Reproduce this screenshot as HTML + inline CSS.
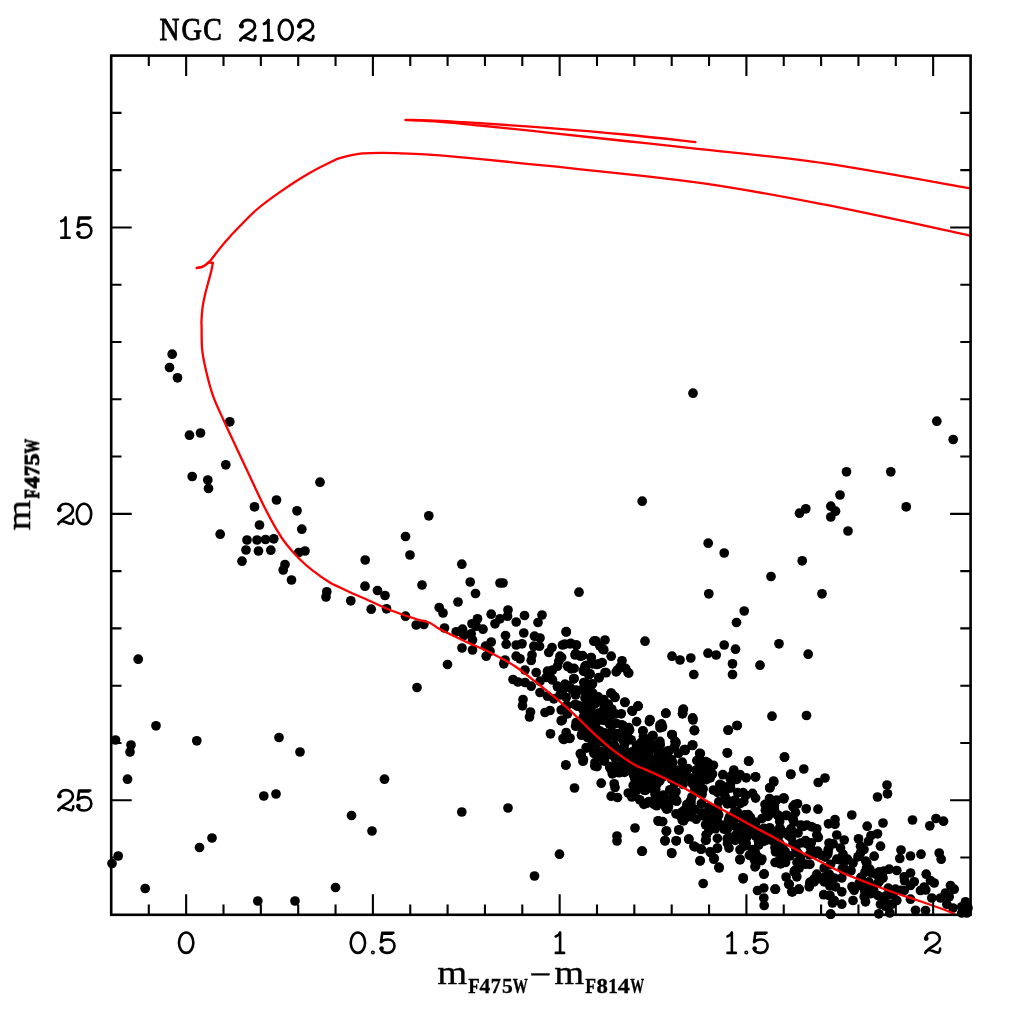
<!DOCTYPE html>
<html><head><meta charset="utf-8"><title>NGC 2102</title>
<style>html,body{margin:0;padding:0;background:#fff;}svg{display:block;}</style></head>
<body>
<svg width="1024" height="1024" viewBox="0 0 1024 1024">
<rect width="1024" height="1024" fill="#fff"/>
<defs><clipPath id="c"><rect x="109.90" y="54.30" width="862.00" height="861.80"/></clipPath></defs>
<g fill="#000">
<circle cx="172.2" cy="354.2" r="4.85"/>
<circle cx="169.5" cy="367.5" r="4.85"/>
<circle cx="177.5" cy="377.8" r="4.85"/>
<circle cx="229.8" cy="421.8" r="4.85"/>
<circle cx="200.5" cy="433.0" r="4.85"/>
<circle cx="189.5" cy="435.2" r="4.85"/>
<circle cx="225.8" cy="464.8" r="4.85"/>
<circle cx="192.2" cy="476.5" r="4.85"/>
<circle cx="207.8" cy="480.0" r="4.85"/>
<circle cx="208.5" cy="488.5" r="4.85"/>
<circle cx="320.0" cy="482.2" r="4.85"/>
<circle cx="276.5" cy="500.0" r="4.85"/>
<circle cx="254.5" cy="506.8" r="4.85"/>
<circle cx="297.0" cy="510.8" r="4.85"/>
<circle cx="259.5" cy="525.0" r="4.85"/>
<circle cx="301.8" cy="529.2" r="4.85"/>
<circle cx="220.2" cy="534.2" r="4.85"/>
<circle cx="247.0" cy="540.0" r="4.85"/>
<circle cx="257.0" cy="540.0" r="4.85"/>
<circle cx="265.5" cy="539.5" r="4.85"/>
<circle cx="273.8" cy="538.8" r="4.85"/>
<circle cx="246.0" cy="550.0" r="4.85"/>
<circle cx="258.5" cy="551.0" r="4.85"/>
<circle cx="270.8" cy="550.2" r="4.85"/>
<circle cx="305.0" cy="551.0" r="4.85"/>
<circle cx="298.8" cy="552.5" r="4.85"/>
<circle cx="242.0" cy="561.2" r="4.85"/>
<circle cx="285.0" cy="564.5" r="4.85"/>
<circle cx="283.2" cy="570.0" r="4.85"/>
<circle cx="291.5" cy="580.0" r="4.85"/>
<circle cx="326.8" cy="591.8" r="4.85"/>
<circle cx="326.0" cy="597.0" r="4.85"/>
<circle cx="350.8" cy="600.8" r="4.85"/>
<circle cx="138.2" cy="659.2" r="4.85"/>
<circle cx="156.0" cy="725.8" r="4.85"/>
<circle cx="115.5" cy="740.0" r="4.85"/>
<circle cx="131.0" cy="745.0" r="4.85"/>
<circle cx="130.0" cy="752.0" r="4.85"/>
<circle cx="196.8" cy="740.8" r="4.85"/>
<circle cx="279.0" cy="737.5" r="4.85"/>
<circle cx="300.0" cy="752.0" r="4.85"/>
<circle cx="127.5" cy="779.2" r="4.85"/>
<circle cx="263.8" cy="796.0" r="4.85"/>
<circle cx="276.0" cy="794.0" r="4.85"/>
<circle cx="351.5" cy="815.5" r="4.85"/>
<circle cx="212.0" cy="838.0" r="4.85"/>
<circle cx="199.5" cy="847.5" r="4.85"/>
<circle cx="118.2" cy="856.0" r="4.85"/>
<circle cx="112.0" cy="863.5" r="4.85"/>
<circle cx="145.2" cy="888.5" r="4.85"/>
<circle cx="335.5" cy="887.5" r="4.85"/>
<circle cx="257.8" cy="901.0" r="4.85"/>
<circle cx="295.0" cy="901.0" r="4.85"/>
<circle cx="428.8" cy="515.8" r="4.85"/>
<circle cx="405.5" cy="536.5" r="4.85"/>
<circle cx="410.0" cy="555.0" r="4.85"/>
<circle cx="365.2" cy="560.0" r="4.85"/>
<circle cx="461.8" cy="564.2" r="4.85"/>
<circle cx="365.0" cy="586.2" r="4.85"/>
<circle cx="422.0" cy="585.0" r="4.85"/>
<circle cx="470.2" cy="582.0" r="4.85"/>
<circle cx="500.0" cy="583.0" r="4.85"/>
<circle cx="503.0" cy="583.0" r="4.85"/>
<circle cx="377.5" cy="590.5" r="4.85"/>
<circle cx="385.0" cy="595.5" r="4.85"/>
<circle cx="475.5" cy="593.5" r="4.85"/>
<circle cx="579.0" cy="592.2" r="4.85"/>
<circle cx="371.2" cy="609.2" r="4.85"/>
<circle cx="386.5" cy="608.8" r="4.85"/>
<circle cx="458.0" cy="602.0" r="4.85"/>
<circle cx="439.2" cy="607.5" r="4.85"/>
<circle cx="443.0" cy="613.0" r="4.85"/>
<circle cx="405.5" cy="616.2" r="4.85"/>
<circle cx="416.2" cy="625.0" r="4.85"/>
<circle cx="423.8" cy="624.5" r="4.85"/>
<circle cx="444.5" cy="628.0" r="4.85"/>
<circle cx="491.2" cy="614.2" r="4.85"/>
<circle cx="508.0" cy="610.0" r="4.85"/>
<circle cx="507.5" cy="616.2" r="4.85"/>
<circle cx="524.5" cy="615.5" r="4.85"/>
<circle cx="542.0" cy="615.0" r="4.85"/>
<circle cx="538.0" cy="622.5" r="4.85"/>
<circle cx="516.2" cy="622.0" r="4.85"/>
<circle cx="500.0" cy="618.8" r="4.85"/>
<circle cx="495.0" cy="623.8" r="4.85"/>
<circle cx="477.5" cy="618.8" r="4.85"/>
<circle cx="472.0" cy="623.8" r="4.85"/>
<circle cx="476.2" cy="626.2" r="4.85"/>
<circle cx="483.0" cy="629.2" r="4.85"/>
<circle cx="462.5" cy="629.2" r="4.85"/>
<circle cx="456.2" cy="631.8" r="4.85"/>
<circle cx="471.2" cy="633.8" r="4.85"/>
<circle cx="463.8" cy="635.5" r="4.85"/>
<circle cx="472.5" cy="640.0" r="4.85"/>
<circle cx="462.0" cy="648.0" r="4.85"/>
<circle cx="472.5" cy="650.0" r="4.85"/>
<circle cx="491.2" cy="642.0" r="4.85"/>
<circle cx="485.5" cy="646.2" r="4.85"/>
<circle cx="490.0" cy="651.2" r="4.85"/>
<circle cx="486.2" cy="656.2" r="4.85"/>
<circle cx="505.5" cy="635.5" r="4.85"/>
<circle cx="523.8" cy="633.0" r="4.85"/>
<circle cx="506.2" cy="644.2" r="4.85"/>
<circle cx="516.2" cy="645.0" r="4.85"/>
<circle cx="522.0" cy="643.8" r="4.85"/>
<circle cx="534.5" cy="636.2" r="4.85"/>
<circle cx="540.0" cy="638.0" r="4.85"/>
<circle cx="533.8" cy="646.2" r="4.85"/>
<circle cx="539.5" cy="646.2" r="4.85"/>
<circle cx="566.2" cy="632.0" r="4.85"/>
<circle cx="593.8" cy="641.2" r="4.85"/>
<circle cx="562.5" cy="645.0" r="4.85"/>
<circle cx="570.0" cy="643.8" r="4.85"/>
<circle cx="576.2" cy="645.0" r="4.85"/>
<circle cx="552.0" cy="647.5" r="4.85"/>
<circle cx="548.8" cy="652.5" r="4.85"/>
<circle cx="532.0" cy="655.0" r="4.85"/>
<circle cx="531.2" cy="660.5" r="4.85"/>
<circle cx="516.2" cy="656.2" r="4.85"/>
<circle cx="520.0" cy="658.8" r="4.85"/>
<circle cx="505.0" cy="660.0" r="4.85"/>
<circle cx="503.8" cy="663.8" r="4.85"/>
<circle cx="447.5" cy="664.5" r="4.85"/>
<circle cx="417.0" cy="687.5" r="4.85"/>
<circle cx="560.0" cy="656.2" r="4.85"/>
<circle cx="558.8" cy="661.2" r="4.85"/>
<circle cx="575.0" cy="655.0" r="4.85"/>
<circle cx="580.5" cy="656.2" r="4.85"/>
<circle cx="591.2" cy="657.5" r="4.85"/>
<circle cx="592.5" cy="663.8" r="4.85"/>
<circle cx="567.5" cy="666.2" r="4.85"/>
<circle cx="571.2" cy="668.8" r="4.85"/>
<circle cx="557.5" cy="666.2" r="4.85"/>
<circle cx="552.5" cy="670.0" r="4.85"/>
<circle cx="547.5" cy="671.2" r="4.85"/>
<circle cx="536.2" cy="672.5" r="4.85"/>
<circle cx="525.0" cy="670.0" r="4.85"/>
<circle cx="583.8" cy="671.2" r="4.85"/>
<circle cx="590.0" cy="673.8" r="4.85"/>
<circle cx="513.0" cy="679.5" r="4.85"/>
<circle cx="518.0" cy="682.0" r="4.85"/>
<circle cx="525.0" cy="682.5" r="4.85"/>
<circle cx="531.2" cy="686.2" r="4.85"/>
<circle cx="540.0" cy="681.2" r="4.85"/>
<circle cx="546.2" cy="677.5" r="4.85"/>
<circle cx="552.5" cy="680.0" r="4.85"/>
<circle cx="573.8" cy="678.8" r="4.85"/>
<circle cx="586.2" cy="685.0" r="4.85"/>
<circle cx="592.5" cy="683.8" r="4.85"/>
<circle cx="557.5" cy="686.2" r="4.85"/>
<circle cx="563.8" cy="688.8" r="4.85"/>
<circle cx="570.0" cy="687.5" r="4.85"/>
<circle cx="576.2" cy="690.0" r="4.85"/>
<circle cx="540.0" cy="692.5" r="4.85"/>
<circle cx="547.5" cy="696.2" r="4.85"/>
<circle cx="553.8" cy="698.8" r="4.85"/>
<circle cx="560.0" cy="695.0" r="4.85"/>
<circle cx="566.2" cy="697.5" r="4.85"/>
<circle cx="586.2" cy="698.8" r="4.85"/>
<circle cx="592.5" cy="700.0" r="4.85"/>
<circle cx="523.0" cy="699.5" r="4.85"/>
<circle cx="522.5" cy="705.8" r="4.85"/>
<circle cx="530.5" cy="712.0" r="4.85"/>
<circle cx="529.5" cy="717.0" r="4.85"/>
<circle cx="545.0" cy="712.5" r="4.85"/>
<circle cx="550.0" cy="710.5" r="4.85"/>
<circle cx="561.2" cy="710.0" r="4.85"/>
<circle cx="567.5" cy="713.8" r="4.85"/>
<circle cx="577.5" cy="706.2" r="4.85"/>
<circle cx="582.5" cy="708.8" r="4.85"/>
<circle cx="561.2" cy="720.8" r="4.85"/>
<circle cx="576.2" cy="722.5" r="4.85"/>
<circle cx="582.5" cy="720.0" r="4.85"/>
<circle cx="590.0" cy="717.5" r="4.85"/>
<circle cx="550.5" cy="733.8" r="4.85"/>
<circle cx="566.2" cy="732.5" r="4.85"/>
<circle cx="563.8" cy="739.5" r="4.85"/>
<circle cx="570.0" cy="738.0" r="4.85"/>
<circle cx="582.5" cy="732.5" r="4.85"/>
<circle cx="587.5" cy="737.5" r="4.85"/>
<circle cx="592.5" cy="742.5" r="4.85"/>
<circle cx="586.2" cy="747.5" r="4.85"/>
<circle cx="581.2" cy="755.0" r="4.85"/>
<circle cx="583.0" cy="761.2" r="4.85"/>
<circle cx="565.8" cy="765.0" r="4.85"/>
<circle cx="595.0" cy="762.5" r="4.85"/>
<circle cx="574.5" cy="788.0" r="4.85"/>
<circle cx="384.5" cy="779.2" r="4.85"/>
<circle cx="508.0" cy="808.0" r="4.85"/>
<circle cx="461.8" cy="812.0" r="4.85"/>
<circle cx="372.0" cy="831.0" r="4.85"/>
<circle cx="559.5" cy="854.2" r="4.85"/>
<circle cx="534.5" cy="876.0" r="4.85"/>
<circle cx="693.0" cy="393.2" r="4.85"/>
<circle cx="642.2" cy="501.2" r="4.85"/>
<circle cx="805.8" cy="508.8" r="4.85"/>
<circle cx="799.5" cy="513.2" r="4.85"/>
<circle cx="830.8" cy="506.2" r="4.85"/>
<circle cx="830.8" cy="517.0" r="4.85"/>
<circle cx="835.5" cy="511.2" r="4.85"/>
<circle cx="708.2" cy="543.2" r="4.85"/>
<circle cx="724.2" cy="553.0" r="4.85"/>
<circle cx="802.2" cy="560.8" r="4.85"/>
<circle cx="771.0" cy="576.5" r="4.85"/>
<circle cx="708.8" cy="593.8" r="4.85"/>
<circle cx="822.0" cy="593.8" r="4.85"/>
<circle cx="744.2" cy="611.0" r="4.85"/>
<circle cx="736.5" cy="622.5" r="4.85"/>
<circle cx="645.0" cy="641.2" r="4.85"/>
<circle cx="779.0" cy="643.8" r="4.85"/>
<circle cx="808.2" cy="654.2" r="4.85"/>
<circle cx="724.2" cy="645.0" r="4.85"/>
<circle cx="735.5" cy="649.2" r="4.85"/>
<circle cx="708.0" cy="653.2" r="4.85"/>
<circle cx="716.2" cy="655.0" r="4.85"/>
<circle cx="672.0" cy="656.2" r="4.85"/>
<circle cx="680.0" cy="660.0" r="4.85"/>
<circle cx="690.8" cy="658.0" r="4.85"/>
<circle cx="732.5" cy="663.8" r="4.85"/>
<circle cx="760.0" cy="665.2" r="4.85"/>
<circle cx="693.8" cy="674.5" r="4.85"/>
<circle cx="732.5" cy="674.5" r="4.85"/>
<circle cx="772.0" cy="716.2" r="4.85"/>
<circle cx="806.5" cy="715.5" r="4.85"/>
<circle cx="737.0" cy="725.5" r="4.85"/>
<circle cx="728.0" cy="730.0" r="4.85"/>
<circle cx="727.5" cy="753.0" r="4.85"/>
<circle cx="748.8" cy="761.2" r="4.85"/>
<circle cx="784.5" cy="757.0" r="4.85"/>
<circle cx="803.8" cy="769.0" r="4.85"/>
<circle cx="790.8" cy="774.5" r="4.85"/>
<circle cx="825.0" cy="778.0" r="4.85"/>
<circle cx="818.2" cy="782.5" r="4.85"/>
<circle cx="773.8" cy="782.0" r="4.85"/>
<circle cx="770.0" cy="787.5" r="4.85"/>
<circle cx="755.5" cy="776.8" r="4.85"/>
<circle cx="783.8" cy="798.0" r="4.85"/>
<circle cx="806.2" cy="808.8" r="4.85"/>
<circle cx="818.0" cy="809.2" r="4.85"/>
<circle cx="795.0" cy="804.5" r="4.85"/>
<circle cx="595.5" cy="640.8" r="4.85"/>
<circle cx="605.0" cy="640.0" r="4.85"/>
<circle cx="602.5" cy="648.8" r="4.85"/>
<circle cx="582.5" cy="655.5" r="4.85"/>
<circle cx="591.2" cy="657.5" r="4.85"/>
<circle cx="611.2" cy="656.2" r="4.85"/>
<circle cx="622.0" cy="660.8" r="4.85"/>
<circle cx="598.8" cy="663.8" r="4.85"/>
<circle cx="585.0" cy="666.2" r="4.85"/>
<circle cx="605.0" cy="672.5" r="4.85"/>
<circle cx="617.5" cy="670.0" r="4.85"/>
<circle cx="628.0" cy="672.5" r="4.85"/>
<circle cx="598.8" cy="677.5" r="4.85"/>
<circle cx="588.8" cy="675.0" r="4.85"/>
<circle cx="583.8" cy="682.5" r="4.85"/>
<circle cx="590.0" cy="686.2" r="4.85"/>
<circle cx="611.2" cy="693.0" r="4.85"/>
<circle cx="585.0" cy="698.0" r="4.85"/>
<circle cx="593.8" cy="698.8" r="4.85"/>
<circle cx="603.8" cy="701.2" r="4.85"/>
<circle cx="615.0" cy="697.5" r="4.85"/>
<circle cx="625.0" cy="702.5" r="4.85"/>
<circle cx="638.0" cy="706.2" r="4.85"/>
<circle cx="632.5" cy="711.2" r="4.85"/>
<circle cx="621.2" cy="713.8" r="4.85"/>
<circle cx="665.8" cy="713.2" r="4.85"/>
<circle cx="683.0" cy="709.5" r="4.85"/>
<circle cx="682.5" cy="713.8" r="4.85"/>
<circle cx="692.5" cy="718.2" r="4.85"/>
<circle cx="650.0" cy="720.0" r="4.85"/>
<circle cx="660.0" cy="725.0" r="4.85"/>
<circle cx="662.5" cy="727.0" r="4.85"/>
<circle cx="694.5" cy="730.5" r="4.85"/>
<circle cx="672.0" cy="734.5" r="4.85"/>
<circle cx="675.0" cy="741.2" r="4.85"/>
<circle cx="692.5" cy="745.5" r="4.85"/>
<circle cx="685.0" cy="750.0" r="4.85"/>
<circle cx="700.0" cy="753.8" r="4.85"/>
<circle cx="667.5" cy="752.0" r="4.85"/>
<circle cx="663.8" cy="756.2" r="4.85"/>
<circle cx="566.2" cy="631.7" r="4.85"/>
<circle cx="564.7" cy="644.2" r="4.85"/>
<circle cx="570.9" cy="643.4" r="4.85"/>
<circle cx="576.4" cy="645.0" r="4.85"/>
<circle cx="599.8" cy="645.8" r="4.85"/>
<circle cx="603.8" cy="649.7" r="4.85"/>
<circle cx="575.6" cy="653.6" r="4.85"/>
<circle cx="581.1" cy="655.9" r="4.85"/>
<circle cx="561.6" cy="657.5" r="4.85"/>
<circle cx="596.7" cy="664.5" r="4.85"/>
<circle cx="602.2" cy="662.5" r="4.85"/>
<circle cx="586.6" cy="665.3" r="4.85"/>
<circle cx="568.6" cy="666.9" r="4.85"/>
<circle cx="574.1" cy="668.4" r="4.85"/>
<circle cx="583.4" cy="670.8" r="4.85"/>
<circle cx="589.7" cy="673.9" r="4.85"/>
<circle cx="606.1" cy="672.7" r="4.85"/>
<circle cx="599.1" cy="677.8" r="4.85"/>
<circle cx="616.2" cy="671.9" r="4.85"/>
<circle cx="620.2" cy="666.9" r="4.85"/>
<circle cx="625.6" cy="668.4" r="4.85"/>
<circle cx="628.8" cy="673.1" r="4.85"/>
<circle cx="574.1" cy="678.6" r="4.85"/>
<circle cx="585.0" cy="682.5" r="4.85"/>
<circle cx="590.5" cy="685.6" r="4.85"/>
<circle cx="567.8" cy="685.6" r="4.85"/>
<circle cx="561.6" cy="688.8" r="4.85"/>
<circle cx="572.5" cy="690.3" r="4.85"/>
<circle cx="575.6" cy="695.0" r="4.85"/>
<circle cx="586.6" cy="698.1" r="4.85"/>
<circle cx="593.6" cy="698.9" r="4.85"/>
<circle cx="577.2" cy="705.2" r="4.85"/>
<circle cx="583.4" cy="709.1" r="4.85"/>
<circle cx="564.7" cy="707.5" r="4.85"/>
<circle cx="610.8" cy="693.4" r="4.85"/>
<circle cx="614.7" cy="696.6" r="4.85"/>
<circle cx="603.8" cy="699.7" r="4.85"/>
<circle cx="606.9" cy="705.9" r="4.85"/>
<circle cx="624.8" cy="702.0" r="4.85"/>
<circle cx="638.1" cy="705.9" r="4.85"/>
<circle cx="631.9" cy="710.6" r="4.85"/>
<circle cx="649.8" cy="719.7" r="4.85"/>
<circle cx="665.9" cy="713.4" r="4.85"/>
<circle cx="683.4" cy="709.1" r="4.85"/>
<circle cx="682.7" cy="713.4" r="4.85"/>
<circle cx="692.8" cy="718.1" r="4.85"/>
<circle cx="694.4" cy="730.2" r="4.85"/>
<circle cx="661.6" cy="723.9" r="4.85"/>
<circle cx="660.0" cy="727.8" r="4.85"/>
<circle cx="672.2" cy="734.8" r="4.85"/>
<circle cx="675.6" cy="742.7" r="4.85"/>
<circle cx="692.8" cy="745.0" r="4.85"/>
<circle cx="685.0" cy="750.5" r="4.85"/>
<circle cx="699.8" cy="753.3" r="4.85"/>
<circle cx="669.4" cy="750.5" r="4.85"/>
<circle cx="664.7" cy="754.4" r="4.85"/>
<circle cx="653.0" cy="735.6" r="4.85"/>
<circle cx="642.8" cy="730.9" r="4.85"/>
<circle cx="636.6" cy="721.6" r="4.85"/>
<circle cx="566.2" cy="735.6" r="4.85"/>
<circle cx="563.0" cy="738.5" r="4.85"/>
<circle cx="569.5" cy="738.5" r="4.85"/>
<circle cx="580.3" cy="753.6" r="4.85"/>
<circle cx="583.4" cy="759.8" r="4.85"/>
<circle cx="565.9" cy="765.0" r="4.85"/>
<circle cx="586.6" cy="748.1" r="4.85"/>
<circle cx="575.6" cy="726.2" r="4.85"/>
<circle cx="562.3" cy="720.0" r="4.85"/>
<circle cx="601.2" cy="783.2" r="4.85"/>
<circle cx="611.2" cy="796.2" r="4.85"/>
<circle cx="617.5" cy="797.5" r="4.85"/>
<circle cx="615.0" cy="787.5" r="4.85"/>
<circle cx="635.0" cy="828.0" r="4.85"/>
<circle cx="617.0" cy="836.0" r="4.85"/>
<circle cx="617.0" cy="841.0" r="4.85"/>
<circle cx="658.8" cy="821.2" r="4.85"/>
<circle cx="666.2" cy="831.2" r="4.85"/>
<circle cx="678.8" cy="830.0" r="4.85"/>
<circle cx="665.0" cy="840.5" r="4.85"/>
<circle cx="676.2" cy="840.8" r="4.85"/>
<circle cx="688.8" cy="839.2" r="4.85"/>
<circle cx="706.2" cy="835.0" r="4.85"/>
<circle cx="706.2" cy="840.0" r="4.85"/>
<circle cx="641.8" cy="851.2" r="4.85"/>
<circle cx="671.8" cy="853.5" r="4.85"/>
<circle cx="695.0" cy="846.8" r="4.85"/>
<circle cx="701.2" cy="849.2" r="4.85"/>
<circle cx="700.0" cy="861.0" r="4.85"/>
<circle cx="703.2" cy="883.5" r="4.85"/>
<circle cx="710.0" cy="851.8" r="4.85"/>
<circle cx="713.8" cy="859.2" r="4.85"/>
<circle cx="719.2" cy="868.0" r="4.85"/>
<circle cx="717.5" cy="848.0" r="4.85"/>
<circle cx="743.2" cy="878.8" r="4.85"/>
<circle cx="740.0" cy="859.2" r="4.85"/>
<circle cx="755.0" cy="866.8" r="4.85"/>
<circle cx="761.2" cy="860.5" r="4.85"/>
<circle cx="763.8" cy="874.2" r="4.85"/>
<circle cx="757.5" cy="890.5" r="4.85"/>
<circle cx="763.8" cy="888.0" r="4.85"/>
<circle cx="763.8" cy="898.0" r="4.85"/>
<circle cx="764.2" cy="905.5" r="4.85"/>
<circle cx="775.0" cy="889.2" r="4.85"/>
<circle cx="788.8" cy="884.2" r="4.85"/>
<circle cx="792.5" cy="891.8" r="4.85"/>
<circle cx="798.8" cy="889.2" r="4.85"/>
<circle cx="795.0" cy="870.5" r="4.85"/>
<circle cx="810.0" cy="883.0" r="4.85"/>
<circle cx="813.8" cy="879.2" r="4.85"/>
<circle cx="827.5" cy="880.5" r="4.85"/>
<circle cx="830.0" cy="895.5" r="4.85"/>
<circle cx="832.5" cy="903.0" r="4.85"/>
<circle cx="830.8" cy="914.2" r="4.85"/>
<circle cx="936.8" cy="421.2" r="4.85"/>
<circle cx="953.2" cy="439.5" r="4.85"/>
<circle cx="846.5" cy="471.8" r="4.85"/>
<circle cx="890.8" cy="471.8" r="4.85"/>
<circle cx="840.0" cy="495.0" r="4.85"/>
<circle cx="906.2" cy="506.8" r="4.85"/>
<circle cx="848.0" cy="531.0" r="4.85"/>
<circle cx="887.0" cy="785.0" r="4.85"/>
<circle cx="887.5" cy="793.8" r="4.85"/>
<circle cx="877.5" cy="797.0" r="4.85"/>
<circle cx="783.8" cy="798.8" r="4.85"/>
<circle cx="797.5" cy="803.8" r="4.85"/>
<circle cx="793.0" cy="806.8" r="4.85"/>
<circle cx="774.2" cy="806.8" r="4.85"/>
<circle cx="769.0" cy="807.5" r="4.85"/>
<circle cx="795.5" cy="812.5" r="4.85"/>
<circle cx="778.0" cy="815.0" r="4.85"/>
<circle cx="786.8" cy="815.5" r="4.85"/>
<circle cx="793.0" cy="819.5" r="4.85"/>
<circle cx="851.8" cy="815.0" r="4.85"/>
<circle cx="835.0" cy="819.5" r="4.85"/>
<circle cx="828.5" cy="823.8" r="4.85"/>
<circle cx="835.0" cy="824.2" r="4.85"/>
<circle cx="806.8" cy="825.0" r="4.85"/>
<circle cx="811.8" cy="826.8" r="4.85"/>
<circle cx="816.8" cy="828.8" r="4.85"/>
<circle cx="816.8" cy="835.0" r="4.85"/>
<circle cx="883.0" cy="823.0" r="4.85"/>
<circle cx="867.2" cy="826.2" r="4.85"/>
<circle cx="912.5" cy="820.0" r="4.85"/>
<circle cx="936.0" cy="818.5" r="4.85"/>
<circle cx="943.5" cy="821.2" r="4.85"/>
<circle cx="929.8" cy="825.8" r="4.85"/>
<circle cx="877.5" cy="833.8" r="4.85"/>
<circle cx="871.0" cy="835.5" r="4.85"/>
<circle cx="836.8" cy="835.0" r="4.85"/>
<circle cx="844.2" cy="840.0" r="4.85"/>
<circle cx="858.5" cy="838.8" r="4.85"/>
<circle cx="868.5" cy="841.2" r="4.85"/>
<circle cx="880.5" cy="846.2" r="4.85"/>
<circle cx="860.5" cy="846.2" r="4.85"/>
<circle cx="830.5" cy="844.2" r="4.85"/>
<circle cx="840.5" cy="848.0" r="4.85"/>
<circle cx="901.0" cy="850.0" r="4.85"/>
<circle cx="921.0" cy="854.2" r="4.85"/>
<circle cx="939.2" cy="853.0" r="4.85"/>
<circle cx="941.2" cy="859.2" r="4.85"/>
<circle cx="910.5" cy="856.0" r="4.85"/>
<circle cx="899.8" cy="858.5" r="4.85"/>
<circle cx="874.2" cy="856.2" r="4.85"/>
<circle cx="866.8" cy="863.0" r="4.85"/>
<circle cx="860.5" cy="853.0" r="4.85"/>
<circle cx="864.0" cy="849.5" r="4.85"/>
<circle cx="858.0" cy="856.8" r="4.85"/>
<circle cx="853.0" cy="863.0" r="4.85"/>
<circle cx="843.0" cy="854.2" r="4.85"/>
<circle cx="845.5" cy="860.5" r="4.85"/>
<circle cx="836.8" cy="859.2" r="4.85"/>
<circle cx="828.0" cy="851.8" r="4.85"/>
<circle cx="821.8" cy="855.5" r="4.85"/>
<circle cx="829.0" cy="843.0" r="4.85"/>
<circle cx="810.5" cy="848.0" r="4.85"/>
<circle cx="805.5" cy="840.5" r="4.85"/>
<circle cx="798.0" cy="833.0" r="4.85"/>
<circle cx="789.2" cy="834.2" r="4.85"/>
<circle cx="779.2" cy="835.5" r="4.85"/>
<circle cx="770.5" cy="830.5" r="4.85"/>
<circle cx="800.5" cy="843.0" r="4.85"/>
<circle cx="783.0" cy="848.0" r="4.85"/>
<circle cx="775.5" cy="851.8" r="4.85"/>
<circle cx="786.8" cy="855.5" r="4.85"/>
<circle cx="800.5" cy="858.0" r="4.85"/>
<circle cx="779.2" cy="863.0" r="4.85"/>
<circle cx="785.5" cy="862.5" r="4.85"/>
<circle cx="805.5" cy="864.2" r="4.85"/>
<circle cx="799.2" cy="868.0" r="4.85"/>
<circle cx="794.2" cy="871.8" r="4.85"/>
<circle cx="796.8" cy="876.8" r="4.85"/>
<circle cx="824.2" cy="868.0" r="4.85"/>
<circle cx="816.8" cy="874.2" r="4.85"/>
<circle cx="829.2" cy="874.2" r="4.85"/>
<circle cx="834.2" cy="878.0" r="4.85"/>
<circle cx="841.8" cy="878.0" r="4.85"/>
<circle cx="824.2" cy="881.8" r="4.85"/>
<circle cx="814.2" cy="881.8" r="4.85"/>
<circle cx="809.2" cy="886.8" r="4.85"/>
<circle cx="789.2" cy="884.2" r="4.85"/>
<circle cx="799.2" cy="889.2" r="4.85"/>
<circle cx="791.8" cy="891.8" r="4.85"/>
<circle cx="775.5" cy="889.2" r="4.85"/>
<circle cx="835.5" cy="886.8" r="4.85"/>
<circle cx="841.8" cy="891.8" r="4.85"/>
<circle cx="829.2" cy="895.5" r="4.85"/>
<circle cx="834.2" cy="900.5" r="4.85"/>
<circle cx="841.8" cy="904.2" r="4.85"/>
<circle cx="853.0" cy="900.5" r="4.85"/>
<circle cx="853.0" cy="888.0" r="4.85"/>
<circle cx="860.5" cy="885.5" r="4.85"/>
<circle cx="868.0" cy="889.2" r="4.85"/>
<circle cx="864.2" cy="896.8" r="4.85"/>
<circle cx="865.5" cy="901.8" r="4.85"/>
<circle cx="878.0" cy="895.5" r="4.85"/>
<circle cx="880.5" cy="904.2" r="4.85"/>
<circle cx="878.8" cy="913.8" r="4.85"/>
<circle cx="830.5" cy="914.2" r="4.85"/>
<circle cx="889.8" cy="913.0" r="4.85"/>
<circle cx="891.8" cy="904.2" r="4.85"/>
<circle cx="896.8" cy="900.5" r="4.85"/>
<circle cx="895.5" cy="889.2" r="4.85"/>
<circle cx="904.2" cy="890.5" r="4.85"/>
<circle cx="910.5" cy="885.5" r="4.85"/>
<circle cx="914.2" cy="881.8" r="4.85"/>
<circle cx="920.5" cy="890.5" r="4.85"/>
<circle cx="910.5" cy="899.2" r="4.85"/>
<circle cx="871.8" cy="873.0" r="4.85"/>
<circle cx="879.2" cy="871.8" r="4.85"/>
<circle cx="889.2" cy="869.2" r="4.85"/>
<circle cx="896.8" cy="870.5" r="4.85"/>
<circle cx="904.2" cy="876.8" r="4.85"/>
<circle cx="910.5" cy="873.0" r="4.85"/>
<circle cx="883.0" cy="878.0" r="4.85"/>
<circle cx="878.0" cy="883.0" r="4.85"/>
<circle cx="926.2" cy="874.2" r="4.85"/>
<circle cx="930.5" cy="880.5" r="4.85"/>
<circle cx="934.2" cy="883.0" r="4.85"/>
<circle cx="931.8" cy="898.0" r="4.85"/>
<circle cx="940.5" cy="898.0" r="4.85"/>
<circle cx="925.5" cy="910.5" r="4.85"/>
<circle cx="945.5" cy="893.0" r="4.85"/>
<circle cx="950.5" cy="885.5" r="4.85"/>
<circle cx="954.2" cy="889.2" r="4.85"/>
<circle cx="949.2" cy="896.8" r="4.85"/>
<circle cx="946.8" cy="904.2" r="4.85"/>
<circle cx="953.0" cy="908.0" r="4.85"/>
<circle cx="961.8" cy="906.8" r="4.85"/>
<circle cx="965.5" cy="901.8" r="4.85"/>
<circle cx="968.0" cy="908.0" r="4.85"/>
<circle cx="961.8" cy="913.0" r="4.85"/>
<circle cx="966.8" cy="913.0" r="4.85"/>
<circle cx="649.4" cy="721.6" r="4.85"/>
<circle cx="661.0" cy="725.5" r="4.85"/>
<circle cx="693.0" cy="720.0" r="4.85"/>
<circle cx="694.4" cy="730.6" r="4.85"/>
<circle cx="728.3" cy="730.2" r="4.85"/>
<circle cx="737.2" cy="725.5" r="4.85"/>
<circle cx="643.0" cy="731.0" r="4.85"/>
<circle cx="652.5" cy="735.6" r="4.85"/>
<circle cx="672.0" cy="734.8" r="4.85"/>
<circle cx="676.0" cy="742.7" r="4.85"/>
<circle cx="649.4" cy="743.4" r="4.85"/>
<circle cx="692.3" cy="745.0" r="4.85"/>
<circle cx="685.3" cy="749.7" r="4.85"/>
<circle cx="667.3" cy="751.2" r="4.85"/>
<circle cx="700.2" cy="753.6" r="4.85"/>
<circle cx="727.2" cy="752.8" r="4.85"/>
<circle cx="748.6" cy="761.0" r="4.85"/>
<circle cx="784.5" cy="757.2" r="4.85"/>
<circle cx="790.8" cy="774.0" r="4.85"/>
<circle cx="773.6" cy="781.0" r="4.85"/>
<circle cx="769.7" cy="788.0" r="4.85"/>
<circle cx="783.8" cy="798.0" r="4.85"/>
<circle cx="755.6" cy="777.0" r="4.85"/>
<circle cx="646.2" cy="752.8" r="4.85"/>
<circle cx="654.0" cy="759.0" r="4.85"/>
<circle cx="661.9" cy="756.0" r="4.85"/>
<circle cx="671.2" cy="765.3" r="4.85"/>
<circle cx="682.2" cy="762.2" r="4.85"/>
<circle cx="677.5" cy="770.0" r="4.85"/>
<circle cx="686.9" cy="770.0" r="4.85"/>
<circle cx="713.4" cy="765.3" r="4.85"/>
<circle cx="707.2" cy="769.2" r="4.85"/>
<circle cx="701.0" cy="774.7" r="4.85"/>
<circle cx="710.3" cy="777.8" r="4.85"/>
<circle cx="722.8" cy="774.7" r="4.85"/>
<circle cx="733.8" cy="770.0" r="4.85"/>
<circle cx="740.0" cy="774.7" r="4.85"/>
<circle cx="746.2" cy="777.8" r="4.85"/>
<circle cx="736.9" cy="779.4" r="4.85"/>
<circle cx="730.6" cy="788.0" r="4.85"/>
<circle cx="721.2" cy="790.3" r="4.85"/>
<circle cx="743.1" cy="792.7" r="4.85"/>
<circle cx="752.5" cy="793.4" r="4.85"/>
<circle cx="755.6" cy="798.1" r="4.85"/>
<circle cx="765.0" cy="804.4" r="4.85"/>
<circle cx="774.4" cy="805.2" r="4.85"/>
<circle cx="777.5" cy="815.3" r="4.85"/>
<circle cx="786.1" cy="815.3" r="4.85"/>
<circle cx="793.1" cy="819.2" r="4.85"/>
<circle cx="794.7" cy="805.2" r="4.85"/>
<circle cx="643.9" cy="804.4" r="4.85"/>
<circle cx="654.0" cy="804.4" r="4.85"/>
<circle cx="663.4" cy="795.0" r="4.85"/>
<circle cx="668.1" cy="807.5" r="4.85"/>
<circle cx="676.7" cy="801.2" r="4.85"/>
<circle cx="676.0" cy="813.8" r="4.85"/>
<circle cx="682.2" cy="820.0" r="4.85"/>
<circle cx="658.0" cy="820.8" r="4.85"/>
<circle cx="662.7" cy="821.6" r="4.85"/>
<circle cx="666.6" cy="831.0" r="4.85"/>
<circle cx="679.0" cy="829.8" r="4.85"/>
<circle cx="665.0" cy="841.0" r="4.85"/>
<circle cx="676.2" cy="840.8" r="4.85"/>
<circle cx="688.8" cy="839.0" r="4.85"/>
<circle cx="693.9" cy="846.2" r="4.85"/>
<circle cx="701.0" cy="849.0" r="4.85"/>
<circle cx="671.6" cy="852.8" r="4.85"/>
<circle cx="642.3" cy="851.2" r="4.85"/>
<circle cx="706.4" cy="834.8" r="4.85"/>
<circle cx="705.6" cy="840.3" r="4.85"/>
<circle cx="711.0" cy="852.8" r="4.85"/>
<circle cx="717.3" cy="848.4" r="4.85"/>
<circle cx="714.2" cy="858.3" r="4.85"/>
<circle cx="700.2" cy="860.6" r="4.85"/>
<circle cx="718.9" cy="867.2" r="4.85"/>
<circle cx="740.0" cy="859.8" r="4.85"/>
<circle cx="755.6" cy="866.0" r="4.85"/>
<circle cx="761.9" cy="859.0" r="4.85"/>
<circle cx="764.2" cy="873.9" r="4.85"/>
<circle cx="743.1" cy="877.8" r="4.85"/>
<circle cx="691.6" cy="816.9" r="4.85"/>
<circle cx="696.2" cy="819.2" r="4.85"/>
<circle cx="705.6" cy="824.7" r="4.85"/>
<circle cx="715.0" cy="821.6" r="4.85"/>
<circle cx="708.8" cy="815.3" r="4.85"/>
<circle cx="693.1" cy="809.0" r="4.85"/>
<circle cx="686.9" cy="804.4" r="4.85"/>
<circle cx="727.5" cy="843.4" r="4.85"/>
<circle cx="729.0" cy="848.1" r="4.85"/>
<circle cx="735.3" cy="840.3" r="4.85"/>
<circle cx="740.0" cy="849.7" r="4.85"/>
<circle cx="746.2" cy="843.4" r="4.85"/>
<circle cx="752.5" cy="849.7" r="4.85"/>
<circle cx="749.4" cy="855.2" r="4.85"/>
<circle cx="758.8" cy="845.0" r="4.85"/>
<circle cx="765.0" cy="840.3" r="4.85"/>
<circle cx="771.2" cy="835.6" r="4.85"/>
<circle cx="775.9" cy="843.4" r="4.85"/>
<circle cx="780.6" cy="852.8" r="4.85"/>
<circle cx="785.3" cy="860.6" r="4.85"/>
<circle cx="780.6" cy="863.8" r="4.85"/>
<circle cx="790.0" cy="855.9" r="4.85"/>
<circle cx="796.2" cy="870.0" r="4.85"/>
<circle cx="793.1" cy="843.4" r="4.85"/>
<circle cx="788.4" cy="835.6" r="4.85"/>
<circle cx="780.6" cy="829.4" r="4.85"/>
<circle cx="769.7" cy="827.8" r="4.85"/>
<circle cx="609.3" cy="754.3" r="4.85"/>
<circle cx="590.4" cy="722.6" r="4.85"/>
<circle cx="623.1" cy="748.1" r="4.85"/>
<circle cx="590.2" cy="720.1" r="4.85"/>
<circle cx="647.0" cy="745.3" r="4.85"/>
<circle cx="632.1" cy="763.1" r="4.85"/>
<circle cx="628.3" cy="793.0" r="4.85"/>
<circle cx="588.5" cy="722.1" r="4.85"/>
<circle cx="593.8" cy="753.3" r="4.85"/>
<circle cx="598.6" cy="741.8" r="4.85"/>
<circle cx="632.9" cy="763.3" r="4.85"/>
<circle cx="589.7" cy="703.0" r="4.85"/>
<circle cx="636.0" cy="753.7" r="4.85"/>
<circle cx="619.0" cy="772.7" r="4.85"/>
<circle cx="637.4" cy="768.0" r="4.85"/>
<circle cx="624.4" cy="772.4" r="4.85"/>
<circle cx="639.7" cy="799.8" r="4.85"/>
<circle cx="593.9" cy="729.7" r="4.85"/>
<circle cx="621.7" cy="765.0" r="4.85"/>
<circle cx="642.3" cy="755.7" r="4.85"/>
<circle cx="650.7" cy="782.8" r="4.85"/>
<circle cx="629.6" cy="730.1" r="4.85"/>
<circle cx="655.9" cy="778.1" r="4.85"/>
<circle cx="634.8" cy="776.1" r="4.85"/>
<circle cx="633.5" cy="765.4" r="4.85"/>
<circle cx="613.9" cy="735.7" r="4.85"/>
<circle cx="586.7" cy="726.2" r="4.85"/>
<circle cx="589.4" cy="731.6" r="4.85"/>
<circle cx="594.7" cy="721.8" r="4.85"/>
<circle cx="650.4" cy="763.9" r="4.85"/>
<circle cx="626.2" cy="768.0" r="4.85"/>
<circle cx="605.9" cy="712.7" r="4.85"/>
<circle cx="611.9" cy="753.3" r="4.85"/>
<circle cx="598.2" cy="713.1" r="4.85"/>
<circle cx="621.4" cy="749.7" r="4.85"/>
<circle cx="604.7" cy="732.8" r="4.85"/>
<circle cx="612.7" cy="767.7" r="4.85"/>
<circle cx="623.7" cy="746.9" r="4.85"/>
<circle cx="635.7" cy="791.7" r="4.85"/>
<circle cx="643.5" cy="769.2" r="4.85"/>
<circle cx="614.9" cy="757.6" r="4.85"/>
<circle cx="589.7" cy="703.2" r="4.85"/>
<circle cx="597.2" cy="698.4" r="4.85"/>
<circle cx="585.0" cy="690.6" r="4.85"/>
<circle cx="612.3" cy="773.8" r="4.85"/>
<circle cx="631.1" cy="739.8" r="4.85"/>
<circle cx="611.1" cy="715.6" r="4.85"/>
<circle cx="648.7" cy="752.7" r="4.85"/>
<circle cx="619.9" cy="756.9" r="4.85"/>
<circle cx="610.7" cy="769.0" r="4.85"/>
<circle cx="597.1" cy="766.6" r="4.85"/>
<circle cx="624.6" cy="757.5" r="4.85"/>
<circle cx="587.0" cy="726.4" r="4.85"/>
<circle cx="658.4" cy="767.5" r="4.85"/>
<circle cx="612.5" cy="766.2" r="4.85"/>
<circle cx="624.9" cy="743.5" r="4.85"/>
<circle cx="609.7" cy="766.9" r="4.85"/>
<circle cx="658.9" cy="781.2" r="4.85"/>
<circle cx="640.5" cy="764.9" r="4.85"/>
<circle cx="611.7" cy="709.0" r="4.85"/>
<circle cx="606.0" cy="754.6" r="4.85"/>
<circle cx="656.7" cy="744.7" r="4.85"/>
<circle cx="655.3" cy="783.7" r="4.85"/>
<circle cx="601.5" cy="713.2" r="4.85"/>
<circle cx="600.3" cy="731.2" r="4.85"/>
<circle cx="652.5" cy="747.1" r="4.85"/>
<circle cx="645.0" cy="777.6" r="4.85"/>
<circle cx="653.2" cy="771.9" r="4.85"/>
<circle cx="641.3" cy="775.4" r="4.85"/>
<circle cx="609.9" cy="767.2" r="4.85"/>
<circle cx="657.9" cy="763.7" r="4.85"/>
<circle cx="656.0" cy="774.1" r="4.85"/>
<circle cx="596.3" cy="738.5" r="4.85"/>
<circle cx="645.5" cy="790.4" r="4.85"/>
<circle cx="658.5" cy="760.3" r="4.85"/>
<circle cx="594.8" cy="766.0" r="4.85"/>
<circle cx="633.7" cy="775.5" r="4.85"/>
<circle cx="655.0" cy="789.3" r="4.85"/>
<circle cx="600.8" cy="719.9" r="4.85"/>
<circle cx="603.0" cy="717.3" r="4.85"/>
<circle cx="604.5" cy="761.1" r="4.85"/>
<circle cx="611.5" cy="768.9" r="4.85"/>
<circle cx="628.8" cy="727.7" r="4.85"/>
<circle cx="622.6" cy="768.9" r="4.85"/>
<circle cx="624.3" cy="749.4" r="4.85"/>
<circle cx="598.7" cy="756.6" r="4.85"/>
<circle cx="597.9" cy="730.2" r="4.85"/>
<circle cx="609.4" cy="724.0" r="4.85"/>
<circle cx="626.7" cy="770.8" r="4.85"/>
<circle cx="603.6" cy="758.7" r="4.85"/>
<circle cx="623.1" cy="765.0" r="4.85"/>
<circle cx="642.0" cy="744.8" r="4.85"/>
<circle cx="622.9" cy="760.3" r="4.85"/>
<circle cx="637.0" cy="745.4" r="4.85"/>
<circle cx="655.6" cy="766.6" r="4.85"/>
<circle cx="650.7" cy="766.8" r="4.85"/>
<circle cx="655.7" cy="789.4" r="4.85"/>
<circle cx="595.3" cy="726.2" r="4.85"/>
<circle cx="590.4" cy="693.6" r="4.85"/>
<circle cx="635.2" cy="768.0" r="4.85"/>
<circle cx="638.7" cy="757.6" r="4.85"/>
<circle cx="595.7" cy="741.4" r="4.85"/>
<circle cx="656.4" cy="769.6" r="4.85"/>
<circle cx="659.2" cy="769.7" r="4.85"/>
<circle cx="597.1" cy="718.8" r="4.85"/>
<circle cx="599.7" cy="751.5" r="4.85"/>
<circle cx="586.5" cy="720.9" r="4.85"/>
<circle cx="618.0" cy="736.8" r="4.85"/>
<circle cx="631.8" cy="797.0" r="4.85"/>
<circle cx="644.1" cy="782.1" r="4.85"/>
<circle cx="592.9" cy="693.3" r="4.85"/>
<circle cx="643.4" cy="736.6" r="4.85"/>
<circle cx="616.7" cy="753.5" r="4.85"/>
<circle cx="596.2" cy="721.0" r="4.85"/>
<circle cx="627.8" cy="760.8" r="4.85"/>
<circle cx="636.6" cy="764.7" r="4.85"/>
<circle cx="590.4" cy="708.1" r="4.85"/>
<circle cx="591.3" cy="706.7" r="4.85"/>
<circle cx="590.0" cy="712.5" r="4.85"/>
<circle cx="626.5" cy="759.5" r="4.85"/>
<circle cx="605.1" cy="741.3" r="4.85"/>
<circle cx="602.9" cy="711.6" r="4.85"/>
<circle cx="588.8" cy="710.2" r="4.85"/>
<circle cx="607.9" cy="737.2" r="4.85"/>
<circle cx="598.3" cy="696.9" r="4.85"/>
<circle cx="603.8" cy="755.8" r="4.85"/>
<circle cx="626.3" cy="753.5" r="4.85"/>
<circle cx="655.1" cy="794.2" r="4.85"/>
<circle cx="617.4" cy="766.3" r="4.85"/>
<circle cx="647.6" cy="767.1" r="4.85"/>
<circle cx="636.6" cy="746.3" r="4.85"/>
<circle cx="638.0" cy="786.2" r="4.85"/>
<circle cx="615.4" cy="713.9" r="4.85"/>
<circle cx="594.7" cy="748.4" r="4.85"/>
<circle cx="604.2" cy="706.9" r="4.85"/>
<circle cx="648.1" cy="760.9" r="4.85"/>
<circle cx="603.2" cy="734.5" r="4.85"/>
<circle cx="596.8" cy="721.4" r="4.85"/>
<circle cx="604.7" cy="757.5" r="4.85"/>
<circle cx="603.3" cy="734.5" r="4.85"/>
<circle cx="608.2" cy="704.0" r="4.85"/>
<circle cx="613.6" cy="736.4" r="4.85"/>
<circle cx="622.9" cy="735.1" r="4.85"/>
<circle cx="591.7" cy="692.4" r="4.85"/>
<circle cx="586.7" cy="702.2" r="4.85"/>
<circle cx="628.9" cy="757.1" r="4.85"/>
<circle cx="641.3" cy="757.4" r="4.85"/>
<circle cx="614.2" cy="783.8" r="4.85"/>
<circle cx="596.2" cy="701.4" r="4.85"/>
<circle cx="633.2" cy="785.4" r="4.85"/>
<circle cx="651.9" cy="765.7" r="4.85"/>
<circle cx="595.4" cy="703.5" r="4.85"/>
<circle cx="622.8" cy="762.4" r="4.85"/>
<circle cx="628.8" cy="730.8" r="4.85"/>
<circle cx="636.2" cy="762.1" r="4.85"/>
<circle cx="595.0" cy="700.3" r="4.85"/>
<circle cx="647.7" cy="770.3" r="4.85"/>
<circle cx="632.1" cy="751.9" r="4.85"/>
<circle cx="585.2" cy="705.3" r="4.85"/>
<circle cx="641.1" cy="742.4" r="4.85"/>
<circle cx="590.0" cy="720.7" r="4.85"/>
<circle cx="603.9" cy="720.4" r="4.85"/>
<circle cx="639.7" cy="781.5" r="4.85"/>
<circle cx="658.2" cy="758.6" r="4.85"/>
<circle cx="636.3" cy="773.2" r="4.85"/>
<circle cx="631.3" cy="766.2" r="4.85"/>
<circle cx="604.0" cy="742.3" r="4.85"/>
<circle cx="607.8" cy="746.9" r="4.85"/>
<circle cx="605.2" cy="739.7" r="4.85"/>
<circle cx="636.9" cy="757.5" r="4.85"/>
<circle cx="705.1" cy="814.5" r="4.85"/>
<circle cx="656.6" cy="784.6" r="4.85"/>
<circle cx="771.1" cy="830.0" r="4.85"/>
<circle cx="754.8" cy="860.4" r="4.85"/>
<circle cx="702.9" cy="774.9" r="4.85"/>
<circle cx="772.4" cy="839.5" r="4.85"/>
<circle cx="659.8" cy="780.7" r="4.85"/>
<circle cx="754.8" cy="822.1" r="4.85"/>
<circle cx="764.2" cy="833.0" r="4.85"/>
<circle cx="708.1" cy="762.9" r="4.85"/>
<circle cx="708.8" cy="830.9" r="4.85"/>
<circle cx="682.3" cy="772.9" r="4.85"/>
<circle cx="684.3" cy="810.2" r="4.85"/>
<circle cx="757.5" cy="856.5" r="4.85"/>
<circle cx="739.8" cy="816.4" r="4.85"/>
<circle cx="680.6" cy="775.4" r="4.85"/>
<circle cx="779.8" cy="827.6" r="4.85"/>
<circle cx="678.5" cy="753.4" r="4.85"/>
<circle cx="756.9" cy="856.8" r="4.85"/>
<circle cx="674.9" cy="781.1" r="4.85"/>
<circle cx="666.6" cy="809.1" r="4.85"/>
<circle cx="763.8" cy="841.2" r="4.85"/>
<circle cx="728.3" cy="827.5" r="4.85"/>
<circle cx="740.7" cy="833.4" r="4.85"/>
<circle cx="703.1" cy="789.0" r="4.85"/>
<circle cx="730.2" cy="778.4" r="4.85"/>
<circle cx="769.7" cy="830.2" r="4.85"/>
<circle cx="688.1" cy="804.6" r="4.85"/>
<circle cx="776.7" cy="847.3" r="4.85"/>
<circle cx="682.1" cy="776.9" r="4.85"/>
<circle cx="662.6" cy="803.6" r="4.85"/>
<circle cx="709.6" cy="828.8" r="4.85"/>
<circle cx="779.5" cy="843.2" r="4.85"/>
<circle cx="659.5" cy="743.5" r="4.85"/>
<circle cx="687.9" cy="768.5" r="4.85"/>
<circle cx="676.2" cy="799.9" r="4.85"/>
<circle cx="697.8" cy="776.7" r="4.85"/>
<circle cx="713.4" cy="790.0" r="4.85"/>
<circle cx="648.7" cy="801.7" r="4.85"/>
<circle cx="657.6" cy="751.5" r="4.85"/>
<circle cx="670.2" cy="760.0" r="4.85"/>
<circle cx="696.0" cy="770.1" r="4.85"/>
<circle cx="773.6" cy="836.5" r="4.85"/>
<circle cx="644.5" cy="763.9" r="4.85"/>
<circle cx="765.4" cy="829.7" r="4.85"/>
<circle cx="694.8" cy="791.1" r="4.85"/>
<circle cx="755.6" cy="836.0" r="4.85"/>
<circle cx="655.3" cy="772.6" r="4.85"/>
<circle cx="735.5" cy="811.8" r="4.85"/>
<circle cx="741.0" cy="818.4" r="4.85"/>
<circle cx="717.2" cy="824.0" r="4.85"/>
<circle cx="672.6" cy="762.7" r="4.85"/>
<circle cx="730.4" cy="784.2" r="4.85"/>
<circle cx="675.3" cy="778.2" r="4.85"/>
<circle cx="649.8" cy="761.6" r="4.85"/>
<circle cx="721.6" cy="786.2" r="4.85"/>
<circle cx="724.1" cy="793.2" r="4.85"/>
<circle cx="704.5" cy="777.6" r="4.85"/>
<circle cx="706.5" cy="779.6" r="4.85"/>
<circle cx="774.5" cy="810.3" r="4.85"/>
<circle cx="683.0" cy="784.4" r="4.85"/>
<circle cx="734.4" cy="812.2" r="4.85"/>
<circle cx="769.5" cy="798.5" r="4.85"/>
<circle cx="687.3" cy="809.2" r="4.85"/>
<circle cx="735.6" cy="835.2" r="4.85"/>
<circle cx="743.5" cy="829.2" r="4.85"/>
<circle cx="683.6" cy="820.9" r="4.85"/>
<circle cx="672.3" cy="797.8" r="4.85"/>
<circle cx="681.3" cy="773.9" r="4.85"/>
<circle cx="671.3" cy="778.8" r="4.85"/>
<circle cx="733.1" cy="821.6" r="4.85"/>
<circle cx="669.8" cy="789.8" r="4.85"/>
<circle cx="659.9" cy="741.4" r="4.85"/>
<circle cx="695.1" cy="809.5" r="4.85"/>
<circle cx="779.7" cy="821.4" r="4.85"/>
<circle cx="686.1" cy="817.6" r="4.85"/>
<circle cx="744.5" cy="830.6" r="4.85"/>
<circle cx="693.0" cy="778.1" r="4.85"/>
<circle cx="663.7" cy="759.0" r="4.85"/>
<circle cx="689.2" cy="815.6" r="4.85"/>
<circle cx="669.0" cy="800.6" r="4.85"/>
<circle cx="755.1" cy="851.7" r="4.85"/>
<circle cx="646.9" cy="743.8" r="4.85"/>
<circle cx="667.0" cy="805.1" r="4.85"/>
<circle cx="644.2" cy="790.2" r="4.85"/>
<circle cx="753.7" cy="827.6" r="4.85"/>
<circle cx="648.8" cy="769.1" r="4.85"/>
<circle cx="676.0" cy="791.8" r="4.85"/>
<circle cx="678.1" cy="773.8" r="4.85"/>
<circle cx="726.4" cy="824.4" r="4.85"/>
<circle cx="684.3" cy="749.5" r="4.85"/>
<circle cx="745.8" cy="795.5" r="4.85"/>
<circle cx="643.4" cy="764.0" r="4.85"/>
<circle cx="773.9" cy="807.7" r="4.85"/>
<circle cx="694.1" cy="785.8" r="4.85"/>
<circle cx="709.1" cy="810.3" r="4.85"/>
<circle cx="743.4" cy="842.8" r="4.85"/>
<circle cx="748.2" cy="814.6" r="4.85"/>
<circle cx="690.7" cy="800.5" r="4.85"/>
<circle cx="651.1" cy="787.3" r="4.85"/>
<circle cx="674.6" cy="746.6" r="4.85"/>
<circle cx="717.4" cy="838.4" r="4.85"/>
<circle cx="763.7" cy="828.4" r="4.85"/>
<circle cx="653.5" cy="776.5" r="4.85"/>
<circle cx="739.4" cy="817.4" r="4.85"/>
<circle cx="726.8" cy="824.5" r="4.85"/>
<circle cx="744.7" cy="814.9" r="4.85"/>
<circle cx="757.7" cy="830.7" r="4.85"/>
<circle cx="692.2" cy="783.2" r="4.85"/>
<circle cx="667.9" cy="758.6" r="4.85"/>
<circle cx="661.5" cy="762.1" r="4.85"/>
<circle cx="695.4" cy="785.3" r="4.85"/>
<circle cx="711.0" cy="822.5" r="4.85"/>
<circle cx="731.5" cy="825.2" r="4.85"/>
<circle cx="754.7" cy="834.5" r="4.85"/>
<circle cx="768.0" cy="816.4" r="4.85"/>
<circle cx="656.7" cy="805.7" r="4.85"/>
<circle cx="721.6" cy="785.3" r="4.85"/>
<circle cx="702.9" cy="815.8" r="4.85"/>
<circle cx="772.4" cy="840.6" r="4.85"/>
<circle cx="726.8" cy="799.5" r="4.85"/>
<circle cx="659.8" cy="755.4" r="4.85"/>
<circle cx="723.9" cy="829.0" r="4.85"/>
<circle cx="668.5" cy="764.8" r="4.85"/>
<circle cx="735.0" cy="800.0" r="4.85"/>
<circle cx="668.5" cy="772.0" r="4.85"/>
<circle cx="654.2" cy="774.1" r="4.85"/>
<circle cx="729.5" cy="786.3" r="4.85"/>
<circle cx="737.4" cy="813.2" r="4.85"/>
<circle cx="679.7" cy="815.3" r="4.85"/>
<circle cx="683.7" cy="775.2" r="4.85"/>
<circle cx="761.0" cy="839.8" r="4.85"/>
<circle cx="690.9" cy="805.4" r="4.85"/>
<circle cx="668.5" cy="806.2" r="4.85"/>
<circle cx="699.3" cy="768.0" r="4.85"/>
<circle cx="704.5" cy="761.8" r="4.85"/>
<circle cx="717.2" cy="821.0" r="4.85"/>
<circle cx="767.4" cy="839.7" r="4.85"/>
<circle cx="691.9" cy="797.0" r="4.85"/>
<circle cx="713.0" cy="811.1" r="4.85"/>
<circle cx="655.2" cy="784.2" r="4.85"/>
<circle cx="667.6" cy="808.7" r="4.85"/>
<circle cx="776.6" cy="800.0" r="4.85"/>
<circle cx="647.5" cy="742.8" r="4.85"/>
<circle cx="726.8" cy="830.1" r="4.85"/>
<circle cx="662.4" cy="777.0" r="4.85"/>
<circle cx="758.5" cy="841.3" r="4.85"/>
<circle cx="665.6" cy="768.6" r="4.85"/>
<circle cx="712.5" cy="774.0" r="4.85"/>
<circle cx="674.6" cy="783.6" r="4.85"/>
<circle cx="718.7" cy="801.9" r="4.85"/>
<circle cx="645.3" cy="781.5" r="4.85"/>
<circle cx="717.0" cy="817.3" r="4.85"/>
<circle cx="682.9" cy="770.7" r="4.85"/>
<circle cx="732.2" cy="804.1" r="4.85"/>
<circle cx="701.4" cy="803.5" r="4.85"/>
<circle cx="708.5" cy="817.9" r="4.85"/>
<circle cx="749.2" cy="828.6" r="4.85"/>
<circle cx="655.0" cy="765.9" r="4.85"/>
<circle cx="652.8" cy="785.3" r="4.85"/>
<circle cx="711.4" cy="810.4" r="4.85"/>
<circle cx="651.5" cy="772.4" r="4.85"/>
<circle cx="647.6" cy="749.9" r="4.85"/>
<circle cx="692.9" cy="809.5" r="4.85"/>
<circle cx="779.5" cy="859.9" r="4.85"/>
<circle cx="754.1" cy="858.7" r="4.85"/>
<circle cx="708.9" cy="806.9" r="4.85"/>
<circle cx="750.4" cy="817.4" r="4.85"/>
<circle cx="649.2" cy="786.7" r="4.85"/>
<circle cx="662.2" cy="769.9" r="4.85"/>
<circle cx="660.1" cy="800.4" r="4.85"/>
<circle cx="768.8" cy="814.6" r="4.85"/>
<circle cx="710.8" cy="766.9" r="4.85"/>
<circle cx="665.5" cy="807.2" r="4.85"/>
<circle cx="735.2" cy="826.4" r="4.85"/>
<circle cx="656.1" cy="794.3" r="4.85"/>
<circle cx="729.1" cy="837.1" r="4.85"/>
<circle cx="717.7" cy="809.2" r="4.85"/>
<circle cx="779.0" cy="832.6" r="4.85"/>
<circle cx="695.2" cy="787.2" r="4.85"/>
<circle cx="720.8" cy="824.8" r="4.85"/>
<circle cx="701.9" cy="812.8" r="4.85"/>
<circle cx="646.8" cy="803.2" r="4.85"/>
<circle cx="675.5" cy="800.4" r="4.85"/>
<circle cx="732.9" cy="776.5" r="4.85"/>
<circle cx="644.7" cy="774.6" r="4.85"/>
<circle cx="700.5" cy="792.5" r="4.85"/>
<circle cx="765.4" cy="810.3" r="4.85"/>
<circle cx="731.4" cy="775.7" r="4.85"/>
<circle cx="689.7" cy="778.0" r="4.85"/>
<circle cx="671.4" cy="770.0" r="4.85"/>
<circle cx="727.4" cy="803.9" r="4.85"/>
<circle cx="658.9" cy="773.0" r="4.85"/>
<circle cx="653.4" cy="778.7" r="4.85"/>
<circle cx="762.0" cy="818.5" r="4.85"/>
<circle cx="641.6" cy="771.8" r="4.85"/>
<circle cx="718.7" cy="815.0" r="4.85"/>
<circle cx="702.1" cy="794.2" r="4.85"/>
<circle cx="766.5" cy="832.7" r="4.85"/>
<circle cx="696.8" cy="760.6" r="4.85"/>
<circle cx="749.0" cy="824.9" r="4.85"/>
<circle cx="771.7" cy="811.7" r="4.85"/>
<circle cx="725.1" cy="796.8" r="4.85"/>
<circle cx="729.8" cy="816.5" r="4.85"/>
<circle cx="682.0" cy="812.0" r="4.85"/>
<circle cx="749.6" cy="833.0" r="4.85"/>
<circle cx="640.9" cy="764.2" r="4.85"/>
<circle cx="743.8" cy="801.6" r="4.85"/>
<circle cx="671.6" cy="759.5" r="4.85"/>
<circle cx="645.4" cy="784.6" r="4.85"/>
<circle cx="737.3" cy="812.0" r="4.85"/>
<circle cx="717.5" cy="792.4" r="4.85"/>
<circle cx="750.4" cy="819.9" r="4.85"/>
<circle cx="775.1" cy="862.5" r="4.85"/>
<circle cx="642.1" cy="746.2" r="4.85"/>
<circle cx="744.1" cy="839.9" r="4.85"/>
<circle cx="744.5" cy="846.1" r="4.85"/>
<circle cx="686.0" cy="815.6" r="4.85"/>
<circle cx="728.3" cy="788.6" r="4.85"/>
<circle cx="705.7" cy="761.5" r="4.85"/>
<circle cx="737.7" cy="792.7" r="4.85"/>
<circle cx="719.8" cy="784.4" r="4.85"/>
<circle cx="727.2" cy="838.8" r="4.85"/>
<circle cx="660.2" cy="744.9" r="4.85"/>
<circle cx="770.1" cy="806.6" r="4.85"/>
<circle cx="644.0" cy="779.9" r="4.85"/>
<circle cx="728.7" cy="819.3" r="4.85"/>
<circle cx="743.1" cy="824.5" r="4.85"/>
<circle cx="690.9" cy="802.4" r="4.85"/>
<circle cx="649.2" cy="739.7" r="4.85"/>
<circle cx="768.0" cy="839.2" r="4.85"/>
<circle cx="655.7" cy="796.2" r="4.85"/>
<circle cx="753.7" cy="830.1" r="4.85"/>
<circle cx="755.5" cy="823.2" r="4.85"/>
<circle cx="653.7" cy="777.0" r="4.85"/>
<circle cx="668.7" cy="771.8" r="4.85"/>
<circle cx="642.9" cy="749.9" r="4.85"/>
<circle cx="740.2" cy="803.5" r="4.85"/>
<circle cx="775.0" cy="847.5" r="4.85"/>
<circle cx="644.3" cy="749.4" r="4.85"/>
<circle cx="701.1" cy="781.4" r="4.85"/>
<circle cx="715.3" cy="828.7" r="4.85"/>
<circle cx="652.7" cy="789.1" r="4.85"/>
<circle cx="663.9" cy="753.5" r="4.85"/>
<circle cx="746.7" cy="837.4" r="4.85"/>
<circle cx="809.5" cy="854.7" r="4.85"/>
<circle cx="791.1" cy="828.7" r="4.85"/>
<circle cx="795.6" cy="870.5" r="4.85"/>
<circle cx="797.0" cy="862.4" r="4.85"/>
<circle cx="809.9" cy="864.3" r="4.85"/>
<circle cx="784.9" cy="832.9" r="4.85"/>
<circle cx="817.7" cy="851.2" r="4.85"/>
<circle cx="803.7" cy="826.4" r="4.85"/>
<circle cx="785.2" cy="851.8" r="4.85"/>
<circle cx="795.8" cy="849.0" r="4.85"/>
<circle cx="810.1" cy="882.2" r="4.85"/>
<circle cx="794.0" cy="821.9" r="4.85"/>
<circle cx="825.2" cy="857.1" r="4.85"/>
<circle cx="800.9" cy="825.1" r="4.85"/>
<circle cx="830.6" cy="864.3" r="4.85"/>
<circle cx="806.3" cy="843.5" r="4.85"/>
<circle cx="814.8" cy="854.1" r="4.85"/>
<circle cx="833.1" cy="843.8" r="4.85"/>
<circle cx="798.1" cy="853.4" r="4.85"/>
<circle cx="789.4" cy="831.5" r="4.85"/>
<circle cx="811.3" cy="842.8" r="4.85"/>
<circle cx="791.4" cy="837.9" r="4.85"/>
<circle cx="823.7" cy="894.7" r="4.85"/>
<circle cx="786.1" cy="877.0" r="4.85"/>
<circle cx="827.7" cy="854.3" r="4.85"/>
<circle cx="818.3" cy="837.5" r="4.85"/>
<circle cx="842.3" cy="868.6" r="4.85"/>
<circle cx="873.7" cy="890.8" r="4.85"/>
<circle cx="851.0" cy="870.7" r="4.85"/>
<circle cx="859.1" cy="883.2" r="4.85"/>
<circle cx="869.8" cy="869.1" r="4.85"/>
<circle cx="870.4" cy="893.7" r="4.85"/>
<circle cx="829.8" cy="886.0" r="4.85"/>
<circle cx="866.6" cy="867.9" r="4.85"/>
<circle cx="865.0" cy="872.2" r="4.85"/>
<circle cx="861.0" cy="877.4" r="4.85"/>
<circle cx="873.0" cy="890.3" r="4.85"/>
<circle cx="861.1" cy="877.7" r="4.85"/>
<circle cx="847.5" cy="859.1" r="4.85"/>
<circle cx="884.6" cy="900.4" r="4.85"/>
<circle cx="872.7" cy="886.1" r="4.85"/>
<circle cx="888.0" cy="895.0" r="4.85"/>
<circle cx="824.5" cy="877.1" r="4.85"/>
<circle cx="885.4" cy="906.2" r="4.85"/>
<circle cx="854.2" cy="890.3" r="4.85"/>
<circle cx="852.0" cy="886.7" r="4.85"/>
<circle cx="844.0" cy="860.5" r="4.85"/>
<circle cx="828.4" cy="849.2" r="4.85"/>
<circle cx="821.5" cy="879.1" r="4.85"/>
<circle cx="839.7" cy="859.8" r="4.85"/>
<circle cx="843.2" cy="870.2" r="4.85"/>
<circle cx="844.8" cy="869.1" r="4.85"/>
<circle cx="829.5" cy="877.1" r="4.85"/>
<circle cx="885.3" cy="896.3" r="4.85"/>
<circle cx="563.4" cy="687.4" r="4.85"/>
<circle cx="581.5" cy="735.2" r="4.85"/>
<circle cx="574.8" cy="704.6" r="4.85"/>
<circle cx="590.3" cy="730.9" r="4.85"/>
<circle cx="583.5" cy="716.7" r="4.85"/>
<circle cx="567.0" cy="705.5" r="4.85"/>
<circle cx="550.9" cy="678.2" r="4.85"/>
<circle cx="557.6" cy="686.9" r="4.85"/>
<circle cx="565.0" cy="684.2" r="4.85"/>
<circle cx="578.9" cy="705.9" r="4.85"/>
<circle cx="599.7" cy="751.2" r="4.85"/>
<circle cx="608.9" cy="734.3" r="4.85"/>
<circle cx="644.9" cy="753.8" r="4.85"/>
<circle cx="582.1" cy="733.6" r="4.85"/>
<circle cx="588.1" cy="710.1" r="4.85"/>
<circle cx="623.6" cy="726.1" r="4.85"/>
<circle cx="646.5" cy="764.1" r="4.85"/>
<circle cx="588.3" cy="736.3" r="4.85"/>
<circle cx="602.9" cy="756.4" r="4.85"/>
<circle cx="635.0" cy="779.3" r="4.85"/>
<circle cx="621.8" cy="755.8" r="4.85"/>
<circle cx="626.1" cy="758.7" r="4.85"/>
<circle cx="592.2" cy="703.4" r="4.85"/>
<circle cx="616.2" cy="723.3" r="4.85"/>
<circle cx="618.0" cy="733.7" r="4.85"/>
<circle cx="588.0" cy="731.1" r="4.85"/>
<circle cx="582.2" cy="724.8" r="4.85"/>
<circle cx="613.9" cy="755.7" r="4.85"/>
<circle cx="640.1" cy="779.2" r="4.85"/>
<circle cx="611.7" cy="731.2" r="4.85"/>
<circle cx="605.0" cy="717.3" r="4.85"/>
<circle cx="647.2" cy="771.5" r="4.85"/>
<circle cx="623.8" cy="757.4" r="4.85"/>
<circle cx="627.1" cy="737.6" r="4.85"/>
<circle cx="614.8" cy="771.3" r="4.85"/>
<circle cx="642.6" cy="773.8" r="4.85"/>
<circle cx="623.0" cy="769.9" r="4.85"/>
<circle cx="604.4" cy="716.3" r="4.85"/>
<circle cx="593.2" cy="723.3" r="4.85"/>
<circle cx="608.4" cy="744.7" r="4.85"/>
<circle cx="637.6" cy="751.6" r="4.85"/>
<circle cx="614.3" cy="745.3" r="4.85"/>
<circle cx="648.2" cy="767.6" r="4.85"/>
<circle cx="600.8" cy="738.1" r="4.85"/>
<circle cx="623.7" cy="741.2" r="4.85"/>
<circle cx="580.9" cy="726.3" r="4.85"/>
<circle cx="581.6" cy="689.9" r="4.85"/>
<circle cx="591.7" cy="715.3" r="4.85"/>
<circle cx="621.8" cy="756.7" r="4.85"/>
<circle cx="622.0" cy="724.9" r="4.85"/>
<circle cx="904.6" cy="880.7" r="4.85"/>
<circle cx="876.5" cy="874.5" r="4.85"/>
<circle cx="893.1" cy="894.4" r="4.85"/>
<circle cx="864.5" cy="882.4" r="4.85"/>
<circle cx="924.2" cy="887.0" r="4.85"/>
<circle cx="915.5" cy="910.3" r="4.85"/>
<circle cx="879.5" cy="881.1" r="4.85"/>
<circle cx="883.7" cy="871.1" r="4.85"/>
<circle cx="865.7" cy="861.0" r="4.85"/>
<circle cx="864.7" cy="891.1" r="4.85"/>
<circle cx="901.1" cy="890.3" r="4.85"/>
<circle cx="888.3" cy="888.1" r="4.85"/>
<circle cx="925.8" cy="890.0" r="4.85"/>
<circle cx="868.9" cy="881.9" r="4.85"/>
</g>
<g clip-path="url(#c)" fill="none" stroke="#f00" stroke-width="2.3" stroke-linecap="round" stroke-linejoin="round">
<path d="M954.25 913.75 C952.38 913.00 949.04 911.46 943.00 909.25 C936.96 907.04 926.33 903.33 918.00 900.50 C909.67 897.67 901.33 895.17 893.00 892.25 C884.67 889.33 876.33 886.21 868.00 883.00 C859.67 879.79 851.33 876.75 843.00 873.00 C834.67 869.25 826.33 864.67 818.00 860.50 C809.67 856.33 801.33 852.38 793.00 848.00 C784.67 843.62 774.33 837.67 768.00 834.25 C761.67 830.83 761.33 830.92 755.00 827.50 C748.67 824.08 738.33 818.33 730.00 813.75 C721.67 809.17 713.33 804.66 705.00 800.00 C696.67 795.34 687.40 789.73 680.00 785.80 C672.60 781.87 666.43 779.13 660.60 776.40 C654.77 773.67 648.90 771.09 645.00 769.40 C641.10 767.71 639.80 767.55 637.20 766.25 C634.60 764.95 633.31 764.21 629.40 761.60 C625.49 758.99 618.97 754.65 613.75 750.60 C608.53 746.55 603.31 741.98 598.10 737.30 C592.89 732.62 587.70 727.43 582.50 722.50 C577.30 717.57 572.11 712.38 566.90 707.70 C561.69 703.02 556.47 698.70 551.25 694.40 C546.03 690.10 541.64 686.59 535.60 681.90 C529.56 677.21 522.60 671.15 515.00 666.25 C507.40 661.35 498.33 656.67 490.00 652.50 C481.67 648.33 473.33 645.12 465.00 641.25 C456.67 637.38 445.83 632.29 440.00 629.25 C434.17 626.21 434.17 624.75 430.00 623.00 C425.83 621.25 421.67 620.92 415.00 618.75 C408.33 616.58 398.33 613.33 390.00 610.00 C381.67 606.67 371.67 601.72 365.00 598.75 C358.33 595.78 354.17 594.08 350.00 592.20 C345.83 590.33 343.43 589.17 340.00 587.50 C336.57 585.83 333.93 585.02 329.40 582.20 C324.87 579.38 317.78 574.47 312.80 570.60 C307.82 566.73 303.93 563.43 299.50 559.00 C295.07 554.57 290.07 548.98 286.20 544.00 C282.33 539.02 280.17 535.73 276.30 529.10 C272.43 522.47 267.43 513.05 263.00 504.20 C258.57 495.35 254.13 485.42 249.70 476.00 C245.27 466.58 240.55 456.57 236.40 447.70 C232.25 438.83 228.67 431.37 224.80 422.80 C220.93 414.23 216.23 404.60 213.20 396.30 C210.17 388.00 208.43 380.75 206.60 373.00 C204.77 365.25 203.03 357.53 202.20 349.80 C201.37 342.07 201.72 331.57 201.60 326.60 C201.48 321.63 201.32 323.37 201.50 320.00 C201.68 316.63 202.12 310.62 202.70 306.40 C203.28 302.18 204.10 298.60 205.00 294.70 C205.90 290.80 207.06 286.91 208.10 283.00 C209.14 279.09 210.47 274.58 211.25 271.25 C212.03 267.92 212.54 264.38 212.80 263.00"/>
<path d="M212.80 263.00 C212.15 262.95 210.47 262.17 208.90 262.70 C207.33 263.23 205.42 265.32 203.40 266.20 C201.38 267.08 197.90 267.70 196.80 268.00"/>
<path d="M196.80 268.00 C197.52 267.88 199.73 267.73 201.10 267.30 C202.47 266.87 203.83 266.17 205.00 265.40 C206.17 264.63 207.06 263.68 208.10 262.70 C209.14 261.72 209.42 261.72 211.25 259.50 C213.08 257.28 216.49 252.65 219.10 249.40 C221.71 246.15 224.10 243.18 226.90 240.00 C229.70 236.82 231.02 235.30 235.90 230.30 C240.78 225.30 248.58 216.57 256.20 210.00 C263.82 203.43 273.13 196.83 281.60 190.90 C290.07 184.97 298.53 179.35 307.00 174.40 C315.47 169.45 326.48 164.03 332.40 161.20 C338.32 158.37 339.12 158.45 342.50 157.40 C345.88 156.35 349.32 155.57 352.70 154.90 C356.08 154.23 357.73 153.73 362.80 153.40 C367.87 153.07 375.48 152.87 383.10 152.90 C390.72 152.93 399.02 153.18 408.50 153.60 C417.98 154.02 417.08 153.38 440.00 155.40 C462.92 157.42 502.67 161.13 546.00 165.70 C589.33 170.27 653.50 176.30 700.00 182.80 C746.50 189.30 780.21 195.95 825.00 204.70 C869.79 213.45 944.25 230.07 968.75 235.30 C993.25 240.53 971.46 235.97 972.00 236.10"/>
<path d="M405.60 120.20 C411.33 120.47 427.60 120.92 440.00 121.80 C452.40 122.68 461.67 123.67 480.00 125.50 C498.33 127.33 525.83 130.22 550.00 132.80 C574.17 135.38 600.00 138.28 625.00 141.00 C650.00 143.72 666.67 145.37 700.00 149.10 C733.33 152.83 780.21 156.90 825.00 163.40 C869.79 169.90 944.25 183.88 968.75 188.10 C993.25 192.32 971.46 188.60 972.00 188.70"/>
<path d="M405.60 119.80 C411.33 119.97 427.60 120.23 440.00 120.80 C452.40 121.37 461.67 121.98 480.00 123.20 C498.33 124.42 525.83 126.22 550.00 128.10 C574.17 129.98 600.77 132.17 625.00 134.50 C649.23 136.83 683.67 140.83 695.40 142.10"/>
</g>
<g fill="none" stroke="#000" stroke-linecap="butt">
<rect x="111.20" y="55.60" width="859.40" height="859.20" stroke-width="2.6"/>
<path d="M148.80 55.60 v10.30 M148.80 914.80 v-10.30 M186.15 55.60 v20.50 M186.15 914.80 v-20.50 M223.50 55.60 v10.30 M223.50 914.80 v-10.30 M260.85 55.60 v10.30 M260.85 914.80 v-10.30 M298.20 55.60 v10.30 M298.20 914.80 v-10.30 M335.55 55.60 v10.30 M335.55 914.80 v-10.30 M372.90 55.60 v20.50 M372.90 914.80 v-20.50 M410.25 55.60 v10.30 M410.25 914.80 v-10.30 M447.60 55.60 v10.30 M447.60 914.80 v-10.30 M484.95 55.60 v10.30 M484.95 914.80 v-10.30 M522.30 55.60 v10.30 M522.30 914.80 v-10.30 M559.65 55.60 v20.50 M559.65 914.80 v-20.50 M597.00 55.60 v10.30 M597.00 914.80 v-10.30 M634.35 55.60 v10.30 M634.35 914.80 v-10.30 M671.70 55.60 v10.30 M671.70 914.80 v-10.30 M709.05 55.60 v10.30 M709.05 914.80 v-10.30 M746.40 55.60 v20.50 M746.40 914.80 v-20.50 M783.75 55.60 v10.30 M783.75 914.80 v-10.30 M821.10 55.60 v10.30 M821.10 914.80 v-10.30 M858.45 55.60 v10.30 M858.45 914.80 v-10.30 M895.80 55.60 v10.30 M895.80 914.80 v-10.30 M933.15 55.60 v20.50 M933.15 914.80 v-20.50 M111.20 112.88 h10.30 M970.60 112.88 h-10.30 M111.20 170.16 h10.30 M970.60 170.16 h-10.30 M111.20 227.44 h20.50 M970.60 227.44 h-20.50 M111.20 284.72 h10.30 M970.60 284.72 h-10.30 M111.20 342.00 h10.30 M970.60 342.00 h-10.30 M111.20 399.28 h10.30 M970.60 399.28 h-10.30 M111.20 456.56 h10.30 M970.60 456.56 h-10.30 M111.20 513.84 h20.50 M970.60 513.84 h-20.50 M111.20 571.12 h10.30 M970.60 571.12 h-10.30 M111.20 628.40 h10.30 M970.60 628.40 h-10.30 M111.20 685.68 h10.30 M970.60 685.68 h-10.30 M111.20 742.96 h10.30 M970.60 742.96 h-10.30 M111.20 800.24 h20.50 M970.60 800.24 h-20.50 M111.20 857.52 h10.30 M970.60 857.52 h-10.30" stroke-width="2.1"/>
</g>
<g fill="none" stroke="#000" stroke-width="2.6" stroke-linecap="round" stroke-linejoin="round">
<g transform="translate(177.65,931.20) scale(1.000)"><ellipse cx="8.5" cy="11.5" rx="7.2" ry="10.2"/></g>
<g transform="translate(349.40,931.20) scale(1.000)"><ellipse cx="8.5" cy="11.5" rx="7.2" ry="10.2"/></g>
<g transform="translate(371.00,931.20) scale(1.000)"><circle cx="1.9" cy="21.3" r="0.75"/></g>
<g transform="translate(379.40,931.20) scale(1.000)"><path d="M2.9 1.6H14M2.9 2.5H12.6M2.9 1.6L1.6 11C3.4 9 6 8.3 8.4 8.3C12.4 8.3 15.1 11 15.1 14.8C15.1 18.8 12 21.7 7.8 21.7C4.6 21.7 1.9 20.2 1.3 17.4"/><circle cx="2.2" cy="17.3" r="1.0"/></g>
<g transform="translate(554.50,931.20) scale(1.000)"><path d="M5.6 1.4V21.6M1.2 5.2C3.2 4.6 4.9 3.1 5.6 1.4M1.3 21.7H9.6"/></g>
<g transform="translate(726.25,931.20) scale(1.000)"><path d="M5.6 1.4V21.6M1.2 5.2C3.2 4.6 4.9 3.1 5.6 1.4M1.3 21.7H9.6"/></g>
<g transform="translate(744.40,931.20) scale(1.000)"><circle cx="1.9" cy="21.3" r="0.75"/></g>
<g transform="translate(752.50,931.20) scale(1.000)"><path d="M2.9 1.6H14M2.9 2.5H12.6M2.9 1.6L1.6 11C3.4 9 6 8.3 8.4 8.3C12.4 8.3 15.1 11 15.1 14.8C15.1 18.8 12 21.7 7.8 21.7C4.6 21.7 1.9 20.2 1.3 17.4"/><circle cx="2.2" cy="17.3" r="1.0"/></g>
<g transform="translate(923.75,931.20) scale(1.000)"><path d="M2.2 7.6C2 3.6 5 1.3 8.8 1.3C12.8 1.3 16 3.8 16 7.4C16 10.6 13.5 12.6 9.6 14.8C5.5 17.2 2.8 19 1.5 21.6M1.5 21.4C2.5 18.6 5.5 18.2 8.5 19.6C11.5 21 13.8 22 15.2 21.2C16.2 20.4 16.4 19 16.4 17.4"/><circle cx="2.5" cy="7.3" r="1.1"/></g>
<g transform="translate(60.00,216.04) scale(1.000)"><path d="M5.6 1.4V21.6M1.2 5.2C3.2 4.6 4.9 3.1 5.6 1.4M1.3 21.7H9.6"/></g>
<g transform="translate(76.25,216.04) scale(1.000)"><path d="M2.9 1.6H14M2.9 2.5H12.6M2.9 1.6L1.6 11C3.4 9 6 8.3 8.4 8.3C12.4 8.3 15.1 11 15.1 14.8C15.1 18.8 12 21.7 7.8 21.7C4.6 21.7 1.9 20.2 1.3 17.4"/><circle cx="2.2" cy="17.3" r="1.0"/></g>
<g transform="translate(56.90,502.44) scale(1.000)"><path d="M2.2 7.6C2 3.6 5 1.3 8.8 1.3C12.8 1.3 16 3.8 16 7.4C16 10.6 13.5 12.6 9.6 14.8C5.5 17.2 2.8 19 1.5 21.6M1.5 21.4C2.5 18.6 5.5 18.2 8.5 19.6C11.5 21 13.8 22 15.2 21.2C16.2 20.4 16.4 19 16.4 17.4"/><circle cx="2.5" cy="7.3" r="1.1"/></g>
<g transform="translate(75.50,502.44) scale(1.000)"><ellipse cx="8.5" cy="11.5" rx="7.2" ry="10.2"/></g>
<g transform="translate(56.90,788.84) scale(1.000)"><path d="M2.2 7.6C2 3.6 5 1.3 8.8 1.3C12.8 1.3 16 3.8 16 7.4C16 10.6 13.5 12.6 9.6 14.8C5.5 17.2 2.8 19 1.5 21.6M1.5 21.4C2.5 18.6 5.5 18.2 8.5 19.6C11.5 21 13.8 22 15.2 21.2C16.2 20.4 16.4 19 16.4 17.4"/><circle cx="2.5" cy="7.3" r="1.1"/></g>
<g transform="translate(76.25,788.84) scale(1.000)"><path d="M2.9 1.6H14M2.9 2.5H12.6M2.9 1.6L1.6 11C3.4 9 6 8.3 8.4 8.3C12.4 8.3 15.1 11 15.1 14.8C15.1 18.8 12 21.7 7.8 21.7C4.6 21.7 1.9 20.2 1.3 17.4"/><circle cx="2.2" cy="17.3" r="1.0"/></g>
<g stroke-width="2.9">
<g transform="translate(238.90,18.70) scale(1.000)"><path d="M2.2 7.6C2 3.6 5 1.3 8.8 1.3C12.8 1.3 16 3.8 16 7.4C16 10.6 13.5 12.6 9.6 14.8C5.5 17.2 2.8 19 1.5 21.6M1.5 21.4C2.5 18.6 5.5 18.2 8.5 19.6C11.5 21 13.8 22 15.2 21.2C16.2 20.4 16.4 19 16.4 17.4"/><circle cx="2.5" cy="7.3" r="1.1"/></g>
<g transform="translate(262.80,18.70) scale(1.000)"><path d="M5.6 1.4V21.6M1.2 5.2C3.2 4.6 4.9 3.1 5.6 1.4M1.3 21.7H9.6"/></g>
<g transform="translate(277.60,18.70) scale(0.960)"><ellipse cx="8.5" cy="11.5" rx="7.2" ry="10.2"/></g>
<g transform="translate(296.90,18.70) scale(1.000)"><path d="M2.2 7.6C2 3.6 5 1.3 8.8 1.3C12.8 1.3 16 3.8 16 7.4C16 10.6 13.5 12.6 9.6 14.8C5.5 17.2 2.8 19 1.5 21.6M1.5 21.4C2.5 18.6 5.5 18.2 8.5 19.6C11.5 21 13.8 22 15.2 21.2C16.2 20.4 16.4 19 16.4 17.4"/><circle cx="2.5" cy="7.3" r="1.1"/></g>
</g>
</g>
<g fill="#000" stroke="#000" style="opacity:0.999">
<text x="159.40" y="40.2" font-family="'Liberation Serif', serif" font-size="32.2" stroke-width="0.9" textLength="20.0" lengthAdjust="spacingAndGlyphs">N</text>
<text x="181.50" y="40.2" font-family="'Liberation Serif', serif" font-size="32.2" stroke-width="0.9" textLength="20.4" lengthAdjust="spacingAndGlyphs">G</text>
<text x="203.20" y="40.2" font-family="'Liberation Serif', serif" font-size="32.2" stroke-width="0.9" textLength="18.6" lengthAdjust="spacingAndGlyphs">C</text>
<text x="437.3" y="984" font-family="'Liberation Serif', serif" font-size="34" stroke-width="0.3" textLength="30" lengthAdjust="spacingAndGlyphs">m</text>
<text x="468.35" y="993.40" font-family="'Liberation Serif', serif" font-weight="bold" font-size="22" stroke-width="0.35" textLength="11.45" lengthAdjust="spacingAndGlyphs">F</text><text x="479.60" y="993.40" font-family="'Liberation Serif', serif" font-weight="bold" font-size="22" stroke-width="0.35" textLength="10.80" lengthAdjust="spacingAndGlyphs">4</text><text x="490.85" y="993.40" font-family="'Liberation Serif', serif" font-weight="bold" font-size="22" stroke-width="0.35" textLength="10.15" lengthAdjust="spacingAndGlyphs">7</text><text x="502.10" y="993.40" font-family="'Liberation Serif', serif" font-weight="bold" font-size="22" stroke-width="0.35" textLength="10.80" lengthAdjust="spacingAndGlyphs">5</text><text x="512.70" y="993.40" font-family="'Liberation Serif', serif" font-weight="bold" font-size="22" stroke-width="0.35" textLength="15.20" lengthAdjust="spacingAndGlyphs">W</text>
<rect x="531.5" y="973.5" width="18" height="1.7" stroke-width="0.4"/>
<text x="554.3" y="984" font-family="'Liberation Serif', serif" font-size="34" stroke-width="0.3" textLength="30" lengthAdjust="spacingAndGlyphs">m</text>
<text x="585.20" y="993.40" font-family="'Liberation Serif', serif" font-weight="bold" font-size="22" stroke-width="0.35" textLength="10.80" lengthAdjust="spacingAndGlyphs">F</text><text x="596.50" y="993.40" font-family="'Liberation Serif', serif" font-weight="bold" font-size="22" stroke-width="0.35" textLength="11.40" lengthAdjust="spacingAndGlyphs">8</text><text x="608.35" y="993.40" font-family="'Liberation Serif', serif" font-weight="bold" font-size="22" stroke-width="0.35" textLength="9.55" lengthAdjust="spacingAndGlyphs">1</text><text x="617.70" y="993.40" font-family="'Liberation Serif', serif" font-weight="bold" font-size="22" stroke-width="0.35" textLength="12.10" lengthAdjust="spacingAndGlyphs">4</text><text x="630.20" y="993.40" font-family="'Liberation Serif', serif" font-weight="bold" font-size="22" stroke-width="0.35" textLength="13.95" lengthAdjust="spacingAndGlyphs">W</text>
<g transform="translate(30,530.5) rotate(-90)">
<text x="0" y="0" font-family="'Liberation Serif', serif" font-size="34" stroke-width="0.3" textLength="30.5" lengthAdjust="spacingAndGlyphs">m</text>
<text x="32.00" y="9.20" font-family="'Liberation Serif', serif" font-weight="bold" font-size="22" stroke-width="1.0" textLength="9.50" lengthAdjust="spacingAndGlyphs">F</text><text x="42.00" y="9.20" font-family="'Liberation Serif', serif" font-weight="bold" font-size="22" stroke-width="1.0" textLength="12.00" lengthAdjust="spacingAndGlyphs">4</text><text x="54.50" y="9.20" font-family="'Liberation Serif', serif" font-weight="bold" font-size="22" stroke-width="1.0" textLength="10.15" lengthAdjust="spacingAndGlyphs">7</text><text x="65.10" y="9.20" font-family="'Liberation Serif', serif" font-weight="bold" font-size="22" stroke-width="1.0" textLength="12.05" lengthAdjust="spacingAndGlyphs">5</text><text x="77.00" y="9.20" font-family="'Liberation Serif', serif" font-weight="bold" font-size="22" stroke-width="1.0" textLength="14.50" lengthAdjust="spacingAndGlyphs">W</text>
</g>
</g>
</svg>
</body></html>
